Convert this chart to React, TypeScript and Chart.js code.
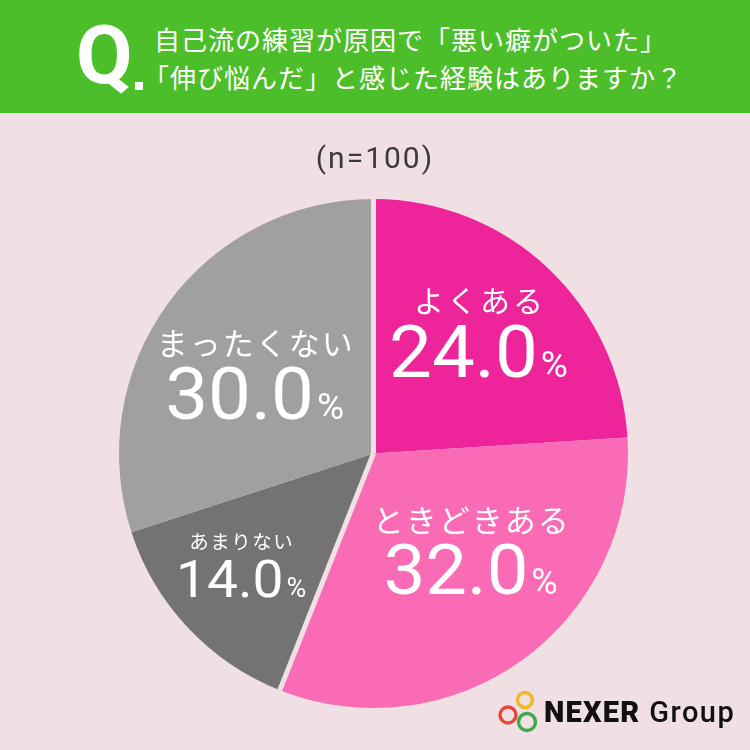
import React, { useEffect, useRef } from "react";
import { Chart, registerables } from "chart.js";

Chart.register(...registerables);

const categories = ["よくある", "ときどきある", "あまりない", "まったくない"];
const values = [24.0, 32.0, 14.0, 30.0];
const sliceColors = ["#EE249B", "#F96BB5", "#737373", "#A0A0A0"];
const titleLines = ["自己流の練習が原因で「悪い癖がついた」", "「伸び悩んだ」と感じた経験はありますか？"];
const sampleText = "(n=100)";

// label layout (not data)
const labelAngleShift = [-2.3, -9, 3.1, -2.5];
const labelRadiusFrac = [0.63, 0.54, 0.68, 0.56];
const labelFontSizes = [30, 31, 19.5, 31];
const labelSpacing = [3, 2, 1.5, 2];
const valueFontSizes = [72, 70, 52, 72];
const separatorStarts = [0, 2];

const BG = "#F0DFE3";
const GREEN = "#4CBE2A";

const separatorPlugin = {
  id: "separators",
  afterDatasetsDraw(chart: any) {
    const meta = chart.getDatasetMeta(0);
    const ctx = chart.ctx;
    ctx.save();
    ctx.strokeStyle = BG;
    ctx.lineWidth = 5;
    ctx.lineCap = "butt";
    separatorStarts.forEach((idx) => {
      const arc = meta.data[idx];
      if (!arc) return;
      const p = arc.getProps(["x", "y", "startAngle", "outerRadius"], true);
      ctx.beginPath();
      ctx.moveTo(p.x, p.y);
      ctx.lineTo(p.x + (p.outerRadius + 3) * Math.cos(p.startAngle), p.y + (p.outerRadius + 3) * Math.sin(p.startAngle));
      ctx.stroke();
    });
    ctx.restore();
  },
};

const labelPlugin = {
  id: "sliceLabels",
  afterDraw(chart: any) {
    const meta = chart.getDatasetMeta(0);
    const ctx = chart.ctx;
    ctx.save();
    ctx.fillStyle = "#FFFFFF";
    meta.data.forEach((arc: any, i: number) => {
      const p = arc.getProps(["x", "y", "startAngle", "endAngle", "outerRadius"], true);
      const mid = (p.startAngle + p.endAngle) / 2 + (labelAngleShift[i] * Math.PI) / 180;
      const r = p.outerRadius * labelRadiusFrac[i];
      const ax = p.x + r * Math.cos(mid);
      const ay = p.y + r * Math.sin(mid);
      const vs = valueFontSizes[i];
      // category label
      ctx.font = `400 ${labelFontSizes[i]}px "Noto Sans CJK JP"`;
      (ctx as any).letterSpacing = `${labelSpacing[i]}px`;
      ctx.textAlign = "center";
      ctx.textBaseline = "middle";
      ctx.fillText(categories[i], ax + labelSpacing[i] / 2, ay - 0.44 * vs);
      (ctx as any).letterSpacing = "0px";
      // value
      const numText = values[i].toFixed(1);
      const numFont = `400 ${vs}px Roboto`;
      const pctFont = `400 ${Math.round(vs * 0.52)}px Roboto`;
      const sxScale = 1.06;
      ctx.font = numFont;
      const nw = ctx.measureText(numText).width * sxScale;
      ctx.font = pctFont;
      const pw = ctx.measureText("%").width;
      const sx = ax - (nw + pw + 3) / 2;
      const by = ay + 0.62 * vs;
      ctx.textAlign = "left";
      ctx.textBaseline = "alphabetic";
      ctx.save();
      ctx.translate(sx, by);
      ctx.scale(sxScale, 1);
      ctx.font = numFont;
      ctx.fillText(numText, 0, 0);
      ctx.restore();
      ctx.font = pctFont;
      ctx.fillText("%", sx + nw + 3, by);
    });
    ctx.restore();
  },
};

export default function App() {
  const canvasRef = useRef<HTMLCanvasElement | null>(null);

  useEffect(() => {
    document.body.style.margin = "0";
    const canvas = canvasRef.current;
    if (!canvas) return;
    const chart = new Chart(canvas, {
      type: "pie",
      data: {
        labels: categories,
        datasets: [
          {
            data: values,
            backgroundColor: sliceColors,
            borderWidth: 0,
          },
        ],
      },
      options: {
        responsive: false,
        animation: false,
        layout: { padding: { left: 119, right: 122, top: 199, bottom: 42 } },
        plugins: {
          legend: { display: false },
          tooltip: { enabled: false },
          title: { display: false },
        },
      },
      plugins: [separatorPlugin, labelPlugin],
    });
    return () => chart.destroy();
  }, []);

  return (
    <div style={{ position: "fixed", left: 0, top: 0, width: 750, height: 750, background: BG, overflow: "hidden" }}>
      <canvas ref={canvasRef} width={750} height={750} style={{ position: "absolute", left: 0, top: 0, width: 750, height: 750 }} />
      <div style={{ position: "absolute", left: 0, top: 0, width: 750, height: 113, background: GREEN }}>
        <div
          style={{
            position: "absolute",
            left: 76,
            top: 10,
            fontFamily: "Roboto",
            fontWeight: 700,
            fontSize: 82,
            lineHeight: "90px",
            color: "#fff",
          }}
        >
          Q
        </div>
        <div style={{ position: "absolute", left: 135, top: 82, width: 8, height: 8, background: "#fff" }} />
        {titleLines.map((t, i) => (
          <div
            key={i}
            style={{
              position: "absolute",
              left: i === 0 ? 154 : 143,
              top: i === 0 ? 22 : 60,
              fontFamily: '"Noto Sans CJK JP"',
              fontWeight: 400,
              fontSize: 26,
              lineHeight: "34px",
              letterSpacing: 1.0,
              color: "#fff",
              whiteSpace: "nowrap",
            }}
          >
            {t}
          </div>
        ))}
      </div>
      <div
        style={{
          position: "absolute",
          left: 0,
          top: 136,
          width: 750,
          textAlign: "center",
          fontFamily: "Roboto",
          fontSize: 30,
          lineHeight: "44px",
          letterSpacing: 2,
          color: "#3A3A3A",
        }}
      >
        {sampleText}
      </div>
      <svg style={{ position: "absolute", left: 490, top: 685 }} width={60} height={55}>
        <circle cx={35} cy={15} r={7.5} fill="none" stroke="#F2B828" strokeWidth={3.4} />
        <circle cx={18} cy={30} r={8} fill="none" stroke="#E6473B" strokeWidth={3.4} />
        <circle cx={37} cy={37} r={8.5} fill="none" stroke="#3DAA4A" strokeWidth={3.4} />
      </svg>
      <div
        style={{
          position: "absolute",
          left: 544,
          top: 696,
          fontFamily: "Roboto",
          fontSize: 29,
          lineHeight: "32px",
          color: "#111",
          whiteSpace: "nowrap",
        }}
      >
        <span style={{ fontWeight: 900, letterSpacing: 1.2 }}>NEXER</span>
        <span style={{ fontWeight: 500, marginLeft: 9, letterSpacing: 1.5 }}>Group</span>
      </div>
    </div>
  );
}
